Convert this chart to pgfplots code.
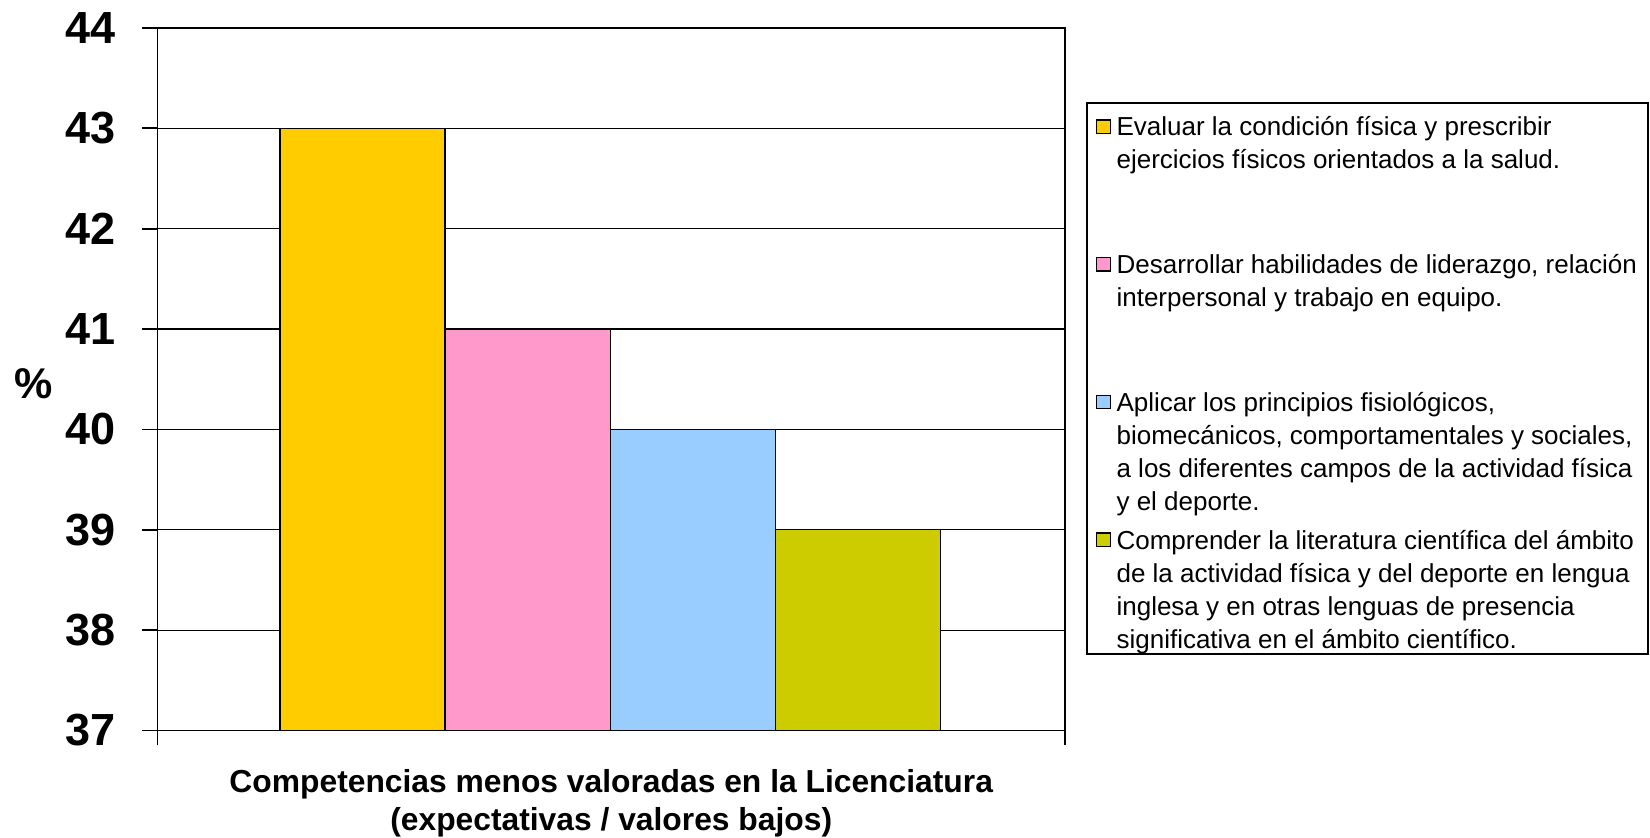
\documentclass[border=0pt]{standalone}
\usepackage{fontspec}
\setmainfont{Liberation Sans}
\usepackage{pgfplots}
\pgfplotsset{compat=1.18}
\definecolor{cY}{HTML}{FFCC00}
\definecolor{cP}{HTML}{FF99CC}
\definecolor{cB}{HTML}{99CCFF}
\definecolor{cO}{HTML}{CCCC00}
\begin{document}
\begin{tikzpicture}
\useasboundingbox (-78.75pt,-53.75pt) rectangle (746.25pt,365.25pt);
\begin{axis}[
  at={(0pt,0pt)}, anchor=south west,
  scale only axis, width=453.75pt, height=351.25pt,
  ybar=0pt, bar width=1,
  xmin=-2.741, xmax=2.752, ymin=37, ymax=44,
  ytick={37,38,39,40,41,42,43,44},
  xtick={-2.741,2.752}, xticklabels={},
  tick align=outside, ytick pos=left, xtick pos=bottom,
  major tick length=7.5pt,
  ymajorgrids, grid style={black, line width=0.6pt},
  axis line style={line width=0.9pt},
  every tick/.style={black, line width=0.9pt},
  /pgf/number format/assume math mode=true,
  yticklabel style={font=\fontsize{22.5}{27}\selectfont\bfseries, inner xsep=0pt, anchor=east, xshift=-13.2pt},
  every axis y label/.style={at={(axis description cs:0,0.493)}, anchor=center, xshift=-61.75pt, font=\fontsize{21.5}{25}\selectfont\bfseries},
  ylabel={\%},
  every axis x label/.style={at={(axis description cs:0.5,0)}, anchor=north, yshift=-19.3pt, inner sep=0pt, align=center, font=\fontsize{15.9}{19}\selectfont\bfseries},
  xlabel={Competencias menos valoradas en la Licenciatura\\(expectativas / valores bajos)},
  legend style={at={(axis description cs:1.0231,0.8944)}, anchor=north west, draw=black, line width=0.8pt,
    inner xsep=0pt, inner ysep=0pt, column sep=2.9pt, row sep=0pt,
    font=\fontsize{13}{16.5}\selectfont,
    nodes={inner sep=0pt, text height=16.5pt, text depth=52.35pt},
    cells={anchor=base west}},
  every axis plot post/.append style={draw=black, line width=0.7pt,
    legend image code/.code={\path[draw=none,fill=none] (0pt,0pt) rectangle (12pt,1pt);
      \draw[##1, line width=0.6pt, draw=black] (5pt,1.3pt) rectangle (11.7pt,8pt);}},
]
\addplot[fill=cY] coordinates {(0,43)};
\addlegendentry{\parbox[t]{265.6pt}{Evaluar la condición física y prescribir\\ejercicios físicos orientados a la salud.}}
\addplot[fill=cP] coordinates {(0,41)};
\addlegendentry{\parbox[t]{265.6pt}{Desarrollar habilidades de liderazgo, relación\\interpersonal y trabajo en equipo.}}
\addplot[fill=cB] coordinates {(0,40)};
\addlegendentry{\parbox[t]{265.6pt}{Aplicar los principios fisiológicos,\\biomecánicos, comportamentales y sociales,\\a los diferentes campos de la actividad física\\y el deporte.}}
\addplot[fill=cO] coordinates {(0,39)};
\addlegendentry{\parbox[t]{265.6pt}{Comprender la literatura científica del ámbito\\de la actividad física y del deporte en lengua\\inglesa y en otras lenguas de presencia\\significativa en el ámbito científico.}}
\end{axis}
\end{tikzpicture}
\end{document}
